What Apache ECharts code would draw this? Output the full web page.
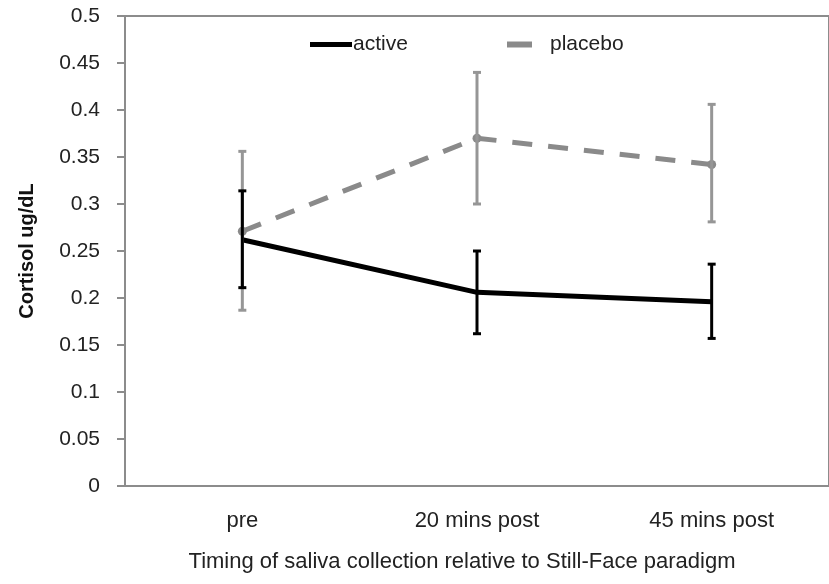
<!DOCTYPE html>
<html>
<head>
<meta charset="utf-8">
<script src="https://cdn.jsdelivr.net/npm/echarts@6/dist/echarts.min.js"></script>
<style>
  html, body { margin: 0; padding: 0; background: #fff; }
  #chart { width: 829px; height: 584px; }
</style>
</head>
<body>
<div id="chart"></div>
<script>
// categories and values
var categories = ['pre', '20 mins post', '45 mins post'];
var activeMean = [0.262, 0.206, 0.196];
var activeLow = [0.211, 0.162, 0.157];
var activeHigh = [0.314, 0.250, 0.236];
var placeboMean = [0.271, 0.370, 0.342];
var placeboLow = [0.187, 0.300, 0.281];
var placeboHigh = [0.356, 0.440, 0.406];
var yTicks = [0, 0.05, 0.1, 0.15, 0.2, 0.25, 0.3, 0.35, 0.4, 0.45, 0.5];

var FONT = '"Liberation Sans", Arial, sans-serif';
var GRAY = '#8a8a8a';
var BAR_GRAY = '#969696';

function errData(low, high) {
    return categories.map(function (c, i) { return [i, low[i], high[i]]; });
}

function errRender(color) {
    return function (params, api) {
        var top = api.coord([api.value(0), api.value(2)]);
        var bot = api.coord([api.value(0), api.value(1)]);
        var cap = 4;
        var st = { stroke: color, lineWidth: 3 };
        return {
            type: 'group',
            children: [
                { type: 'line', shape: { x1: top[0], y1: top[1], x2: bot[0], y2: bot[1] }, style: st },
                { type: 'line', shape: { x1: top[0] - cap, y1: top[1], x2: top[0] + cap, y2: top[1] }, style: st },
                { type: 'line', shape: { x1: bot[0] - cap, y1: bot[1], x2: bot[0] + cap, y2: bot[1] }, style: st }
            ]
        };
    };
}

var chart = echarts.init(document.getElementById('chart'));
chart.setOption({
    animation: false,
    backgroundColor: '#fff',
    textStyle: { fontFamily: FONT },
    grid: {
        left: 125, top: 16, width: 717, height: 470,
        show: true, borderColor: '#8c8c8c', borderWidth: 2
    },
    legend: [{
        data: [{ name: 'active', icon: 'rect', itemStyle: { color: '#000' } }],
        left: 305, top: 29,
        itemWidth: 42, itemHeight: 5,
        textStyle: { fontFamily: FONT, fontSize: 21, color: '#222', padding: [0, 0, 0, -4] }
    }, {
        data: [{ name: 'placebo', icon: 'rect', itemStyle: { color: GRAY } }],
        left: 502, top: 29,
        itemWidth: 25, itemHeight: 6,
        textStyle: { fontFamily: FONT, fontSize: 21, color: '#222', padding: [0, 0, 0, 13] }
    }],
    xAxis: {
        type: 'category',
        data: categories,
        boundaryGap: true,
        axisLine: { lineStyle: { color: '#8c8c8c', width: 2 } },
        axisTick: { show: false },
        axisLabel: { fontFamily: FONT, fontSize: 22, color: '#222', margin: 24 },
        name: 'Timing of saliva collection relative to Still-Face paradigm',
        nameLocation: 'middle',
        nameGap: 65,
        nameTextStyle: { fontFamily: FONT, fontSize: 22, color: '#222', padding: [0, 30, 0, 0] }
    },
    yAxis: {
        type: 'value',
        min: 0, max: 0.5, interval: 0.05,
        axisLine: { show: true, lineStyle: { color: '#8c8c8c', width: 2 } },
        axisTick: { show: true, length: 8, lineStyle: { color: '#8c8c8c', width: 2 } },
        splitLine: { show: false },
        axisLabel: {
            fontFamily: FONT, fontSize: 21, color: '#222', margin: 25,
            formatter: function (v) {
                var t = yTicks.find(function (x) { return Math.abs(x - v) < 1e-9; });
                return t === undefined ? '' : String(t);
            }
        },
        name: 'Cortisol ug/dL',
        nameLocation: 'middle',
        nameGap: 88,
        nameTextStyle: { fontFamily: FONT, fontSize: 20, fontWeight: 'bold', color: '#111' }
    },
    series: [{
        name: 'placebo',
        type: 'line',
        data: placeboMean,
        symbol: 'circle',
        symbolSize: 9,
        itemStyle: { color: GRAY },
        lineStyle: { color: GRAY, width: 5, type: [20, 16] },
        z: 2
    }, {
        name: 'active',
        type: 'line',
        data: activeMean,
        symbol: 'none',
        itemStyle: { color: '#000' },
        lineStyle: { color: '#000', width: 5 },
        z: 3
    }, {
        type: 'custom',
        data: errData(placeboLow, placeboHigh),
        renderItem: errRender(BAR_GRAY),
        encode: { x: 0, y: [1, 2] },
        z: 4
    }, {
        type: 'custom',
        data: errData(activeLow, activeHigh),
        renderItem: errRender('#000'),
        encode: { x: 0, y: [1, 2] },
        z: 5
    }]
});
</script>
</body>
</html>
